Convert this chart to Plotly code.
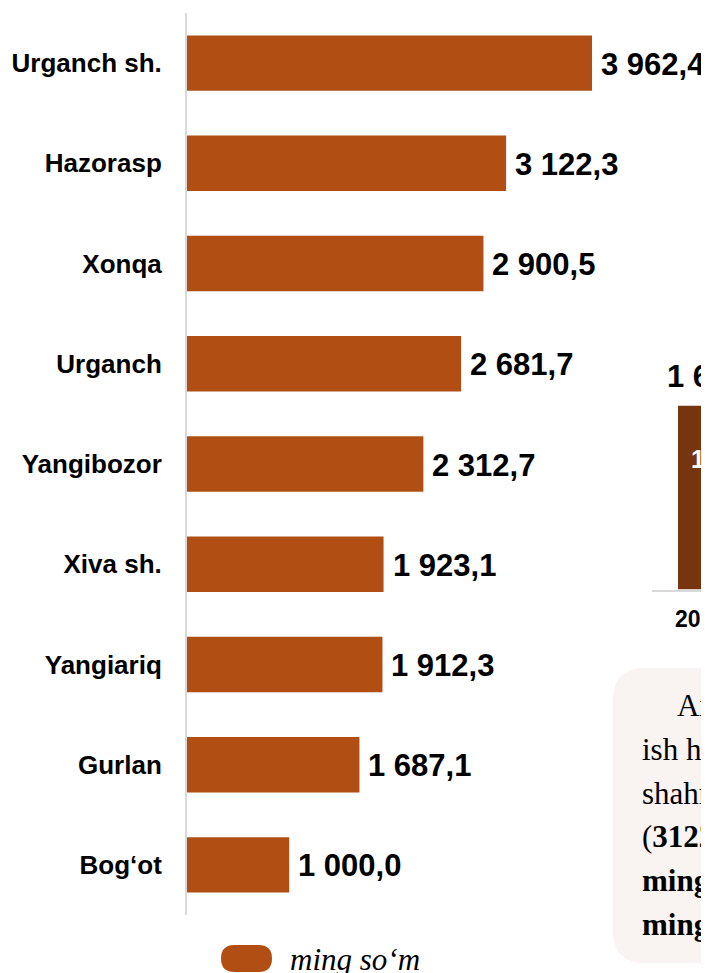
import plotly.graph_objects as go

# ---------------- data ----------------
districts = ["Urganch sh.", "Hazorasp", "Xonqa", "Urganch", "Yangibozor",
             "Xiva sh.", "Yangiariq", "Gurlan", "Bog‘ot"]
wages = [3962.4, 3122.3, 2900.5, 2681.7, 2312.7, 1923.1, 1912.3, 1687.1, 1000.0]
legend_label = "ming so‘m"

# partially visible neighbouring chart (cut off on the right)
side_years = ["2019 yil"]
side_values = [1645.2]
side_inner = ["125,3"]

note_lines = ["Axborotlarga ko‘ra,",
              "ish haqi eng yuqori",
              "shahrida qayd etilgan",
              "(<b>3122,3 ming so‘m</b>)",
              "<b>ming so‘m</b>",
              "<b>ming so‘m</b>"]

BAR = "#B04E14"
BAR_DARK = "#76340F"
SANS = "Liberation Sans, Arial, sans-serif"
SERIF = "Liberation Serif, Times New Roman, serif"

OFF = 8  # page offset of the figure (body margin)
W, H = 709 - OFF, 973 - OFF
# page-pixel layout targets
PL, PT, PB = 187, 13, 915   # plot left, top, bottom in page pixels
L, T = PL - OFF, PT - OFF
B = H - (PB - OFF)
R = 0
PW, PH = W - L - R, H - T - B


def px2x(px):
    return (px - OFF - L) / PW


def py2y(py):
    return ((PB - OFF) - (py - OFF)) / PH


def fmt(v):
    return f"{v:,.1f}".replace(",", " ").replace(".", ",")


def rounded_rect(x0, y0, x1, y1, r):
    return (f"M {px2x(x0 + r)},{py2y(y0)} L {px2x(x1 - r)},{py2y(y0)} "
            f"Q {px2x(x1)},{py2y(y0)} {px2x(x1)},{py2y(y0 + r)} "
            f"L {px2x(x1)},{py2y(y1 - r)} "
            f"Q {px2x(x1)},{py2y(y1)} {px2x(x1 - r)},{py2y(y1)} "
            f"L {px2x(x0 + r)},{py2y(y1)} "
            f"Q {px2x(x0)},{py2y(y1)} {px2x(x0)},{py2y(y1 - r)} "
            f"L {px2x(x0)},{py2y(y0 + r)} "
            f"Q {px2x(x0)},{py2y(y0)} {px2x(x0 + r)},{py2y(y0)} Z")


fig = go.Figure()

fig.add_trace(go.Bar(
    x=wages, y=districts, orientation="h",
    marker=dict(color=BAR, line=dict(width=0)),
    hoverinfo="skip", showlegend=False,
))

# side chart bar (second subplot)
fig.add_trace(go.Bar(
    x=[0], y=side_values, width=[1],
    marker=dict(color=BAR_DARK, line=dict(width=0)),
    xaxis="x2", yaxis="y2", hoverinfo="skip", showlegend=False,
))

annotations = []
for d, v in zip(districts, wages):
    annotations.append(dict(
        x=v, y=d, xref="x", yref="y", text=fmt(v), showarrow=False,
        xanchor="left", yanchor="middle", xshift=7, yshift=-1,
        font=dict(family=SANS, size=31, color="#000000", weight="bold"),
    ))

# side chart labels
annotations.append(dict(
    x=px2x(718), y=py2y(396), xref="paper", yref="paper",
    text=fmt(side_values[0]), showarrow=False, xanchor="center", yanchor="bottom",
    font=dict(family=SANS, size=31, color="#000000", weight="bold"),
))
annotations.append(dict(
    x=px2x(689), y=py2y(459), xref="paper", yref="paper",
    text=side_inner[0], showarrow=False, xanchor="left", yanchor="middle",
    font=dict(family=SANS, size=25, color="#FFFFFF", weight="bold"),
))
annotations.append(dict(
    x=px2x(673), y=py2y(619), xref="paper", yref="paper",
    text=side_years[0], showarrow=False, xanchor="left", yanchor="middle",
    font=dict(family=SANS, size=23, color="#000000", weight="bold"),
))

# note box text
baselines = [715, 759, 803, 846, 890, 934]
for i, (line, bl) in enumerate(zip(note_lines, baselines)):
    annotations.append(dict(
        x=px2x(675 if i == 0 else 640), y=py2y(bl - 10), xref="paper", yref="paper",
        text=line, showarrow=False, xanchor="left", yanchor="middle",
        font=dict(family=SERIF, size=31, color="#000000"),
    ))

# legend text
annotations.append(dict(
    x=px2x(288), y=py2y(959), xref="paper", yref="paper",
    text=f"<i>{legend_label}</i>", showarrow=False, xanchor="left", yanchor="middle",
    font=dict(family=SERIF, size=31, color="#000000"),
))

shapes = [
    dict(type="path", xref="paper", yref="paper",
         path=rounded_rect(613, 668, 780, 963, 32),
         fillcolor="#F9F3F1", line=dict(width=0), layer="below"),
    dict(type="path", xref="paper", yref="paper",
         path=rounded_rect(221, 945, 272, 972, 13.5),
         fillcolor=BAR, line=dict(width=0)),
]

x_max = PW / ((592 - PL) / wages[0])

fig.update_layout(
    width=W, height=H,
    margin=dict(l=L, r=R, t=T, b=B, pad=0),
    paper_bgcolor="#FFFFFF", plot_bgcolor="rgba(0,0,0,0)",
    bargap=0.447,
    showlegend=False,
    annotations=annotations,
    shapes=shapes,
    xaxis=dict(range=[0, x_max], visible=False, domain=[0, 1]),
    yaxis=dict(
        type="category", categoryorder="array", categoryarray=districts,
        autorange="reversed", showline=True, linecolor="#D9D9D9", linewidth=2,
        showgrid=False, zeroline=False, ticks="", ticklabelstandoff=18,
        tickfont=dict(family=SANS, size=26, color="#000000", weight="bold"),
    ),
    xaxis2=dict(domain=[px2x(652), 1], anchor="y2", range=[-0.825, -0.825 + 57 / 80],
                showline=True, linecolor="#D9D9D9", linewidth=2, showgrid=False,
                zeroline=False, showticklabels=False, ticks=""),
    yaxis2=dict(domain=[py2y(589.5), py2y(360)], anchor="x2",
                range=[0, side_values[0] / 0.801], visible=False),
)

fig.write_html("out.html")
